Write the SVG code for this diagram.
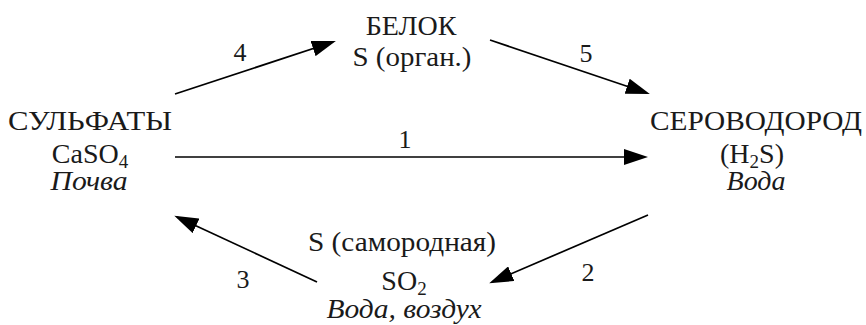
<svg xmlns="http://www.w3.org/2000/svg" width="866" height="325" viewBox="0 0 866 325">
<defs>
<marker id="ah" markerUnits="userSpaceOnUse" markerWidth="24" markerHeight="16" refX="21" refY="8" orient="auto" viewBox="0 0 24 16">
<path d="M0,0 L24,8 L0,16 Z" fill="#000"/>
</marker>
<style>
text{font-family:'Liberation Serif','DejaVu Serif',serif;font-size:28px;fill:#1a1a1a;text-anchor:middle}
.it{font-style:italic}
.sub{font-size:19px}
.lbl{font-size:26px}
.c{stroke:#000;stroke-width:1.7;fill:none;marker-end:url(#ah)}
</style>
</defs>
<rect width="866" height="325" fill="#fff"/>
<g font-family="'Liberation Serif', 'DejaVu Serif', serif">
<g id="sulfates">
<text x="90" y="130" textLength="164" lengthAdjust="spacingAndGlyphs">СУЛЬФАТЫ</text>
<text x="90" y="163">CaSO<tspan class="sub" dy="5">4</tspan></text>
<text x="89" y="190" class="it" textLength="77" lengthAdjust="spacingAndGlyphs">Почва</text>
</g>
<g id="hydrogen-sulfide">
<text x="756" y="130" textLength="212" lengthAdjust="spacingAndGlyphs">СЕРОВОДОРОД</text>
<text x="752" y="163">(H<tspan class="sub" dy="5">2</tspan><tspan dy="-5">S)</tspan></text>
<text x="756" y="190" class="it">Вода</text>
</g>
<g id="protein">
<text x="411" y="35">БЕЛОК</text>
<text x="412" y="66" textLength="119" lengthAdjust="spacingAndGlyphs">S (орган.)</text>
</g>
<g id="native-sulfur">
<text x="402" y="251" textLength="188" lengthAdjust="spacingAndGlyphs">S (самородная)</text>
<text x="404" y="290">SO<tspan class="sub" dy="5">2</tspan></text>
<text x="404" y="318" class="it" textLength="155" lengthAdjust="spacingAndGlyphs">Вода, воздух</text>
</g>
<g id="connectors">
<line class="c" x1="175" y1="157" x2="645" y2="157"/>
<line class="c" x1="175" y1="94" x2="333" y2="42"/>
<line class="c" x1="490" y1="40" x2="647" y2="93"/>
<line class="c" x1="648" y1="215" x2="492" y2="282"/>
<line class="c" x1="317" y1="282" x2="177" y2="217"/>
<text class="lbl" x="405" y="148">1</text>
<text class="lbl" x="588" y="281">2</text>
<text class="lbl" x="243" y="288">3</text>
<text class="lbl" x="240" y="61">4</text>
<text class="lbl" x="586" y="62">5</text>
</g>
</g>
</svg>
